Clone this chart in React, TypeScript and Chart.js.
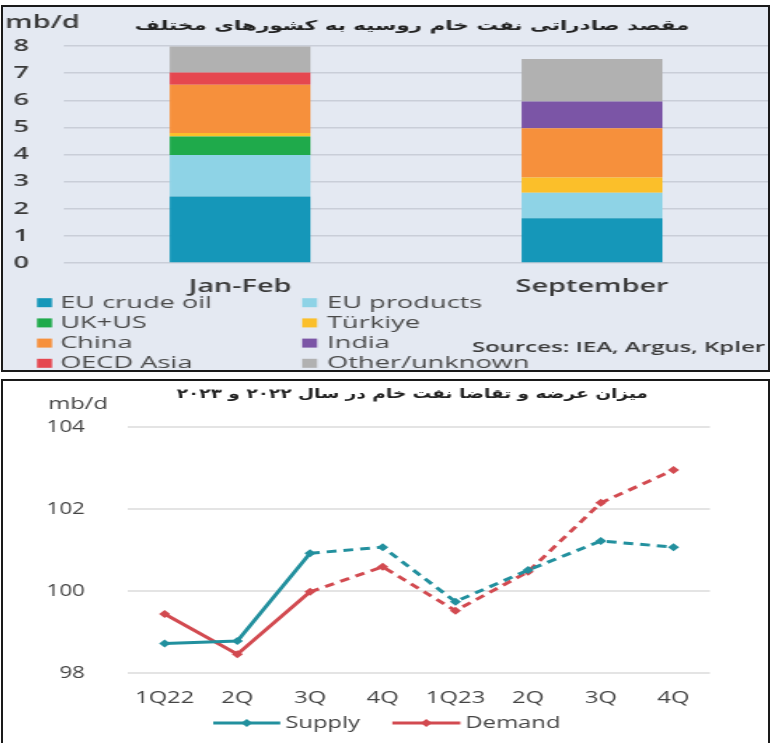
import React, { useEffect, useRef } from "react";
import { Chart, registerables } from "chart.js";

Chart.register(...registerables);

// ---------- Top chart: Russian crude/product export destinations ----------
const exportPeriods = ["Jan-Feb", "September"];
const euCrudeOil = [2.45, 1.65];
const euProducts = [1.53, 0.94];
const ukUs = [0.68, 0];
const turkiye = [0.13, 0.56];
const china = [1.78, 1.82];
const india = [0, 0.98];
const oecdAsia = [0.45, 0];
const otherUnknown = [0.96, 1.57];
const exportTicks = [0, 1, 2, 3, 4, 5, 6, 7, 8];
const exportSeriesNames = ["EU crude oil", "EU products", "UK+US", "Türkiye", "China", "India", "OECD Asia", "Other/unknown"];
const exportColors = ["#1597b9", "#8ed3e6", "#1faa4b", "#fbbf2a", "#f6903c", "#7b55a6", "#e5474f", "#b1b1b1"];
const exportTitle = "مقصد صادراتی نفت خام روسیه به کشورهای مختلف";
const exportSources = "Sources: IEA, Argus, Kpler";

// ---------- Bottom chart: supply & demand ----------
const quarters = ["1Q22", "2Q", "3Q", "4Q", "1Q23", "2Q", "3Q", "4Q"];
const supply = [98.72, 98.78, 100.92, 101.07, 99.74, 100.51, 101.22, 101.07];
const demand = [99.44, 98.46, 99.98, 100.59, 99.52, 100.47, 102.15, 102.95];
const balanceTicks = [98, 100, 102, 104];
const balanceTitle = "میزان عرضه و تقاضا نفت خام در سال ۲۰۲۲ و ۲۰۲۳";
const unitLabel = "mb/d";
const supplyColor = "#22909e";
const demandColor = "#d24a50";

const LATIN = '"Open Sans", "DejaVu Sans", sans-serif';
const PERSIAN = '"DejaVu Sans", sans-serif';

// horizontal stretch factors (the reference image is stretched horizontally)
const K1 = 1.6;
const K2 = 1.4;
const PANEL_W = 765;
const TOP_H = 363;
const BOT_H = 362;

// draws right-to-left title fitted to a target width (in canvas units)
function drawFittedRtl(ctx: CanvasRenderingContext2D, text: string, cx: number, cy: number, targetW: number) {
  ctx.font = `bold 15px ${PERSIAN}`;
  (ctx as any).direction = "rtl";
  const w = ctx.measureText(text).width;
  const size = Math.max(10, Math.min(18, (15 * targetW) / w));
  ctx.font = `bold ${size.toFixed(2)}px ${PERSIAN}`;
  ctx.textAlign = "center";
  ctx.textBaseline = "middle";
  ctx.fillText(text, cx, cy);
  (ctx as any).direction = "ltr";
}

function ExportsChart() {
  const ref = useRef<HTMLCanvasElement>(null);
  useEffect(() => {
    const canvas = ref.current!;
    const px = (pageX: number) => (pageX - 3) / K1;
    const overlay = {
      id: "exportsOverlay",
      afterDraw(chart: any) {
        const ctx = chart.ctx as CanvasRenderingContext2D;
        ctx.save();
        // unit
        ctx.fillStyle = "#3a3a3a";
        ctx.font = `600 18px ${LATIN}`;
        ctx.textAlign = "left";
        ctx.textBaseline = "middle";
        ctx.fillText(unitLabel, px(5), 16);
        // title
        ctx.fillStyle = "#222";
        drawFittedRtl(ctx, exportTitle, px(412), 20, 555 / K1);
        // legend
        ctx.font = `17px ${LATIN}`;
        ctx.textAlign = "left";
        ctx.textBaseline = "middle";
        chart.data.datasets.forEach((ds: any, i: number) => {
          const col = i % 2;
          const row = Math.floor(i / 2);
          const y = 295.7 + row * 20.2;
          const sx = col === 0 ? px(37) : px(302);
          const tx = col === 0 ? px(60) : px(327);
          ctx.fillStyle = ds.backgroundColor;
          ctx.fillRect(sx, y - 4.5, 15 / K1, 9);
          ctx.fillStyle = "#4a4a4a";
          ctx.fillText(ds.label, tx, y);
        });
        // sources
        ctx.font = `600 15px ${LATIN}`;
        ctx.fillStyle = "#3a3a3a";
        ctx.textAlign = "right";
        ctx.fillText(exportSources, px(765), 341);
        ctx.restore();
      },
    };
    const series = [euCrudeOil, euProducts, ukUs, turkiye, china, india, oecdAsia, otherUnknown];
    const chart = new Chart(canvas, {
      type: "bar",
      data: {
        labels: exportPeriods,
        datasets: series.map((d, i) => ({
          label: exportSeriesNames[i],
          data: d,
          backgroundColor: exportColors[i],
          borderWidth: 0,
          barPercentage: 0.4,
          categoryPercentage: 1,
        })),
      },
      options: {
        responsive: false,
        animation: false,
        devicePixelRatio: 1,
        layout: { padding: { top: 39, right: 0, left: 0, bottom: 0 } },
        plugins: { legend: { display: false }, tooltip: { enabled: false }, title: { display: false } },
        scales: {
          x: {
            stacked: true,
            grid: { display: false, drawTicks: false },
            border: { display: false },
            ticks: { color: "#3a3a3a", font: { family: LATIN, size: 18, weight: "600" }, padding: 13 },
            afterFit: (s: any) => { s.height = 107; },
          },
          y: {
            stacked: true,
            min: 0,
            max: 8,
            afterBuildTicks: (s: any) => { s.ticks = exportTicks.map((v) => ({ value: v })); },
            grid: { color: "#c9ced8", lineWidth: 1.5, drawTicks: false },
            border: { display: false },
            ticks: { color: "#3a3a3a", font: { family: LATIN, size: 17, weight: "600" }, padding: 22 },
            afterFit: (s: any) => { s.width = (64 - 3) / K1; },
          },
        },
      },
      plugins: [overlay],
    } as any);
    return () => chart.destroy();
  }, []);
  return (
    <canvas
      ref={ref}
      width={Math.round(PANEL_W / K1)}
      height={TOP_H}
      style={{ width: PANEL_W + "px", height: TOP_H + "px", display: "block" }}
    />
  );
}

function BalanceChart() {
  const ref = useRef<HTMLCanvasElement>(null);
  useEffect(() => {
    const canvas = ref.current!;
    const px = (pageX: number) => (pageX - 3) / K2;
    const drawDiamond = (ctx: CanvasRenderingContext2D, x: number, y: number, r: number) => {
      ctx.beginPath();
      ctx.moveTo(x, y - r);
      ctx.lineTo(x + r, y);
      ctx.lineTo(x, y + r);
      ctx.lineTo(x - r, y);
      ctx.closePath();
      ctx.fill();
    };
    const overlay = {
      id: "balanceOverlay",
      afterDraw(chart: any) {
        const ctx = chart.ctx as CanvasRenderingContext2D;
        ctx.save();
        ctx.fillStyle = "#444";
        ctx.font = `17px ${LATIN}`;
        ctx.textAlign = "left";
        ctx.textBaseline = "middle";
        ctx.fillText(unitLabel, px(48), 23);
        ctx.fillStyle = "#222";
        drawFittedRtl(ctx, balanceTitle, px(412), 14, 471 / K2);
        // legend
        const y = 342;
        const items = [
          { ds: chart.data.datasets[0], x0: px(213), x1: px(280), tx: px(285) },
          { ds: chart.data.datasets[1], x0: px(392), x1: px(460), tx: px(465) },
        ];
        ctx.font = `17px ${LATIN}`;
        ctx.textAlign = "left";
        ctx.textBaseline = "middle";
        items.forEach((it) => {
          ctx.strokeStyle = it.ds.borderColor;
          ctx.fillStyle = it.ds.borderColor;
          ctx.lineWidth = 3;
          ctx.beginPath();
          ctx.moveTo(it.x0, y);
          ctx.lineTo(it.x1, y);
          ctx.stroke();
          drawDiamond(ctx, (it.x0 + it.x1) / 2, y, 4);
          ctx.fillStyle = "#444";
          ctx.fillText(it.ds.label, it.tx, y);
        });
        ctx.restore();
      },
    };
    const dashAfter = (ctx: any) => (ctx.p0DataIndex >= 2 ? [7, 5] : undefined);
    const chart = new Chart(canvas, {
      type: "line",
      data: {
        labels: quarters,
        datasets: [
          {
            label: "Supply",
            data: supply,
            borderColor: supplyColor,
            backgroundColor: supplyColor,
            borderWidth: 3,
            pointStyle: "rectRot",
            pointRadius: 4,
            pointBorderWidth: 0,
            tension: 0,
            segment: { borderDash: dashAfter },
          },
          {
            label: "Demand",
            data: demand,
            borderColor: demandColor,
            backgroundColor: demandColor,
            borderWidth: 3,
            pointStyle: "rectRot",
            pointRadius: 4,
            pointBorderWidth: 0,
            tension: 0,
            segment: { borderDash: dashAfter },
          },
        ],
      },
      options: {
        responsive: false,
        animation: false,
        devicePixelRatio: 1,
        layout: { padding: { top: 46, right: Math.round(PANEL_W / K2) - (709.3 - 3) / K2, left: 0, bottom: 0 } },
        plugins: { legend: { display: false }, tooltip: { enabled: false }, title: { display: false } },
        scales: {
          x: {
            offset: true,
            grid: { display: false, drawTicks: false },
            border: { display: false },
            ticks: { color: "#444", font: { family: LATIN, size: 17 }, padding: 15 },
            afterFit: (s: any) => { s.height = 70; },
          },
          y: {
            min: 98,
            max: 104,
            afterBuildTicks: (s: any) => { s.ticks = balanceTicks.map((v) => ({ value: v })); },
            grid: { color: "#e4e4e4", lineWidth: 2, drawTicks: false },
            border: { display: false },
            ticks: { color: "#444", font: { family: LATIN, size: 16 }, padding: 31 },
            afterFit: (s: any) => { s.width = (128.2 - 3) / K2; },
          },
        },
      },
      plugins: [overlay],
    } as any);
    return () => chart.destroy();
  }, []);
  return (
    <canvas
      ref={ref}
      width={Math.round(PANEL_W / K2)}
      height={BOT_H}
      style={{ width: PANEL_W + "px", height: BOT_H + "px", display: "block" }}
    />
  );
}

export default function App() {
  return (
    <div style={{ position: "absolute", left: 0, top: 0, width: 770, height: 743, overflow: "hidden", background: "#fff" }}>
      <div
        style={{
          position: "absolute",
          left: 1,
          top: 5,
          width: 769,
          height: 367,
          boxSizing: "border-box",
          border: "2px solid #1a1a1a",
          background: "#e4e9f2",
        }}
      >
        <ExportsChart />
      </div>
      <div
        style={{
          position: "absolute",
          left: 1,
          top: 379,
          width: 769,
          height: 366,
          boxSizing: "border-box",
          border: "2px solid #1a1a1a",
          background: "#fff",
        }}
      >
        <BalanceChart />
      </div>
    </div>
  );
}
